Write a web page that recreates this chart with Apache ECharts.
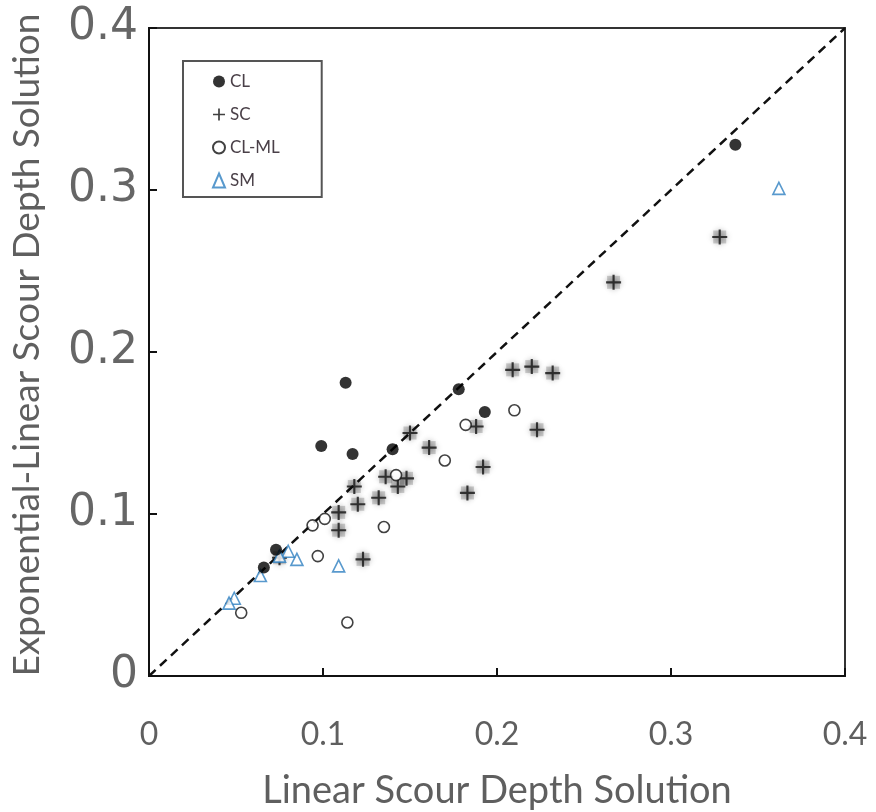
<!DOCTYPE html>
<html>
<head>
<meta charset="utf-8">
<script src="https://cdn.jsdelivr.net/npm/echarts@6/dist/echarts.min.js"></script>
<style>
  html, body { margin: 0; padding: 0; background: #fff; }
  #chart { width: 876px; height: 812px; }
</style>
</head>
<body>
<div id="chart"></div>
<script>
// Soil groups: [linear solution, exponential-linear solution]
var clPoints = [
  [0.113, 0.181], [0.099, 0.142], [0.117, 0.137], [0.140, 0.140],
  [0.178, 0.177], [0.193, 0.163], [0.073, 0.078], [0.066, 0.067],
  [0.337, 0.328]
];
var scPoints = [
  [0.150, 0.150], [0.161, 0.141], [0.136, 0.123], [0.148, 0.122],
  [0.143, 0.117], [0.118, 0.117], [0.132, 0.110], [0.120, 0.106],
  [0.109, 0.101], [0.109, 0.090], [0.123, 0.072], [0.075, 0.073],
  [0.188, 0.154], [0.209, 0.189], [0.220, 0.191], [0.232, 0.187],
  [0.223, 0.152], [0.192, 0.129], [0.183, 0.113], [0.267, 0.243],
  [0.328, 0.271]
];
var clmlPoints = [
  [0.094, 0.093], [0.101, 0.097], [0.135, 0.092], [0.097, 0.074],
  [0.114, 0.033], [0.053, 0.039], [0.170, 0.133], [0.142, 0.124],
  [0.210, 0.164], [0.182, 0.155]
];
var smPoints = [
  [0.362, 0.301], [0.109, 0.068], [0.085, 0.072], [0.080, 0.077],
  [0.075, 0.074], [0.064, 0.062], [0.049, 0.048], [0.046, 0.045]
];
var equalityLine = [[0, 0], [0.4, 0.4]];
var xTicks = [0, 0.1, 0.2, 0.3, 0.4];
var yTicks = [0, 0.1, 0.2, 0.3, 0.4];

var plusPath = 'path://M6,0 H8 V6 H14 V8 H8 V14 H6 V8 H0 V6 H6 Z';

var chart = echarts.init(document.getElementById('chart'), null, { renderer: 'canvas' });

function fmt(list) {
  return function (v) {
    for (var i = 0; i < list.length; i++) {
      if (Math.abs(list[i] - v) < 1e-9) return v === 0 ? '0' : String(list[i]);
    }
    return '';
  };
}

chart.setOption({
  backgroundColor: '#ffffff',
  animation: false,
  grid: {
    left: 149, top: 28, width: 696, height: 648,
    outerBoundsMode: 'none', containLabel: false,
    show: true, borderColor: '#333', borderWidth: 2, backgroundColor: 'transparent'
  },
  legend: {
    orient: 'vertical',
    left: 183, top: 61,
    padding: [12, 42, 8, 29],
    itemGap: 16,
    itemWidth: 12, itemHeight: 14,
    borderColor: '#555', borderWidth: 2,
    textStyle: { fontFamily: 'Lato', fontSize: 17, color: '#4a4048' },
    data: ['CL', 'SC', 'CL-ML', 'SM']
  },
  xAxis: {
    type: 'value', min: 0, max: 0.4, interval: 0.1,
    name: 'Linear Scour Depth Solution',
    nameLocation: 'middle', nameGap: 96,
    nameTextStyle: { fontFamily: 'Lato', fontSize: 38, color: '#5f5f5f' },
    axisLine: { show: true, lineStyle: { color: '#111', width: 2 } },
    axisTick: { show: true, inside: true, length: 8, lineStyle: { color: '#111', width: 2 } },
    axisLabel: { fontFamily: 'Lato', fontSize: 32, color: '#5f5f5f', margin: 43, formatter: fmt(xTicks) },
    splitLine: { show: false }
  },
  yAxis: {
    type: 'value', min: 0, max: 0.4, interval: 0.1,
    name: 'Exponential-Linear Scour Depth Solution',
    nameLocation: 'middle', nameGap: 103, nameRotate: 90,
    nameTextStyle: { fontFamily: 'Lato', fontSize: 37, color: '#5f5f5f', padding: [0, 0, 0, 14] },
    axisLine: { show: true, lineStyle: { color: '#111', width: 2 } },
    axisTick: { show: true, inside: true, length: 8, lineStyle: { color: '#111', width: 2 } },
    axisLabel: { fontFamily: 'DejaVu Sans', fontSize: 44, color: '#666', margin: 11, formatter: fmt(yTicks) },
    splitLine: { show: false }
  },
  series: [
    {
      name: 'equality', type: 'line', data: equalityLine,
      symbol: 'none', silent: true, z: 1,
      lineStyle: { color: '#111', width: 2.5, type: [9, 6] }
    },
    {
      name: 'CL', type: 'scatter', data: clPoints,
      symbol: 'circle', symbolSize: 12, z: 4,
      itemStyle: { color: '#000' }
    },
    {
      name: 'SC', type: 'scatter', data: scPoints,
      symbol: plusPath, symbolSize: 15, z: 3,
      itemStyle: { color: '#111', shadowColor: 'rgba(0,0,0,0.6)', shadowBlur: 6 }
    },
    {
      // soft grey square halo under each SC cross
      name: 'SC', type: 'scatter', data: scPoints,
      symbol: 'rect', symbolSize: 13, z: 2, silent: true,
      itemStyle: { color: 'rgba(0,0,0,0.22)', shadowColor: 'rgba(0,0,0,0.35)', shadowBlur: 5 }
    },
    {
      name: 'CL-ML', type: 'scatter', data: clmlPoints,
      symbol: 'circle', symbolSize: 11, z: 3,
      itemStyle: { color: '#fff', borderColor: '#111', borderWidth: 1.6 }
    },
    {
      name: 'SM', type: 'scatter', data: smPoints,
      symbol: 'triangle', symbolSize: 12, z: 3,
      itemStyle: { color: '#fff', borderColor: '#2e7fc0', borderWidth: 1.6 }
    }
  ]
});
</script>
</body>
</html>
